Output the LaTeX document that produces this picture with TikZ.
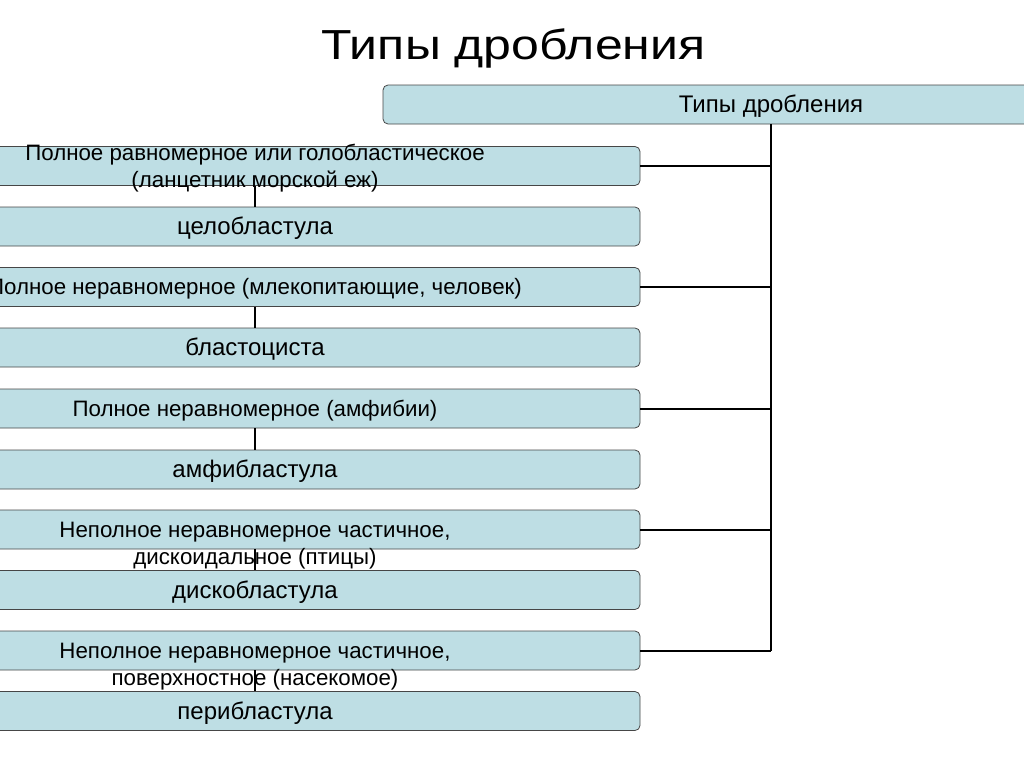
\documentclass[tikz,border=0pt]{standalone}
\usepackage{fontspec}
\setmainfont{Liberation Sans}
\definecolor{boxfill}{RGB}{190,222,228}
\definecolor{boxline}{RGB}{70,70,70}
\newcommand{\titlefont}{\fontsize{42}{50}\selectfont}
\newcommand{\longfont}{\fontsize{22.3}{27}\selectfont}
\newcommand{\shortfont}{\fontsize{24}{28}\selectfont}
\newcommand{\boxx}{255}
\tikzset{
  typebox/.style={draw=boxline, fill=boxfill, rounded corners=5pt,
    minimum width=770pt, minimum height=39pt, inner sep=0pt, line width=0.8pt},
  longtext/.style={font=\longfont, align=center, inner sep=0pt},
  shorttext/.style={font=\shortfont, align=center, inner sep=0pt},
  link/.style={line width=2pt, draw=black},
}

\begin{document}
\begin{tikzpicture}[x=1pt,y=-1pt]
    \useasboundingbox (0,0) rectangle (1024,768);
    % title
    \node[font=\titlefont, inner sep=0pt, xscale=1.19, transform shape] (title) at (513.5,48) {Типы дробления};
    % root box
    \node[typebox, minimum width=776pt] (root) at (771,104.5) {};
    \node[shorttext] (roottext) at ([yshift=-2pt]root.center) {Типы дробления};
    % type boxes
    \node[typebox] (t1) at (\boxx,166) {};
    \node[typebox] (t2) at (\boxx,226.5) {};
    \node[typebox] (t3) at (\boxx,287) {};
    \node[typebox] (t4) at (\boxx,347.5) {};
    \node[typebox] (t5) at (\boxx,408.5) {};
    \node[typebox] (t6) at (\boxx,469.5) {};
    \node[typebox] (t7) at (\boxx,529.5) {};
    \node[typebox] (t8) at (\boxx,590) {};
    \node[typebox] (t9) at (\boxx,650.5) {};
    \node[typebox] (t10) at (\boxx,711) {};
    % box texts
    \node[longtext] (t1text) at (\boxx,168.5) {Полное равномерное или голобластическое\\(ланцетник морской еж)};
    \node[shorttext] (t2text) at ([yshift=-2pt]t2.center) {целобластула};
    \node[longtext] (t3text) at ([yshift=-2pt]t3.center) {Полное неравномерное (млекопитающие, человек)};
    \node[shorttext] (t4text) at ([yshift=-2pt]t4.center) {бластоциста};
    \node[longtext] (t5text) at ([yshift=-2pt]t5.center) {Полное неравномерное (амфибии)};
    \node[shorttext] (t6text) at ([yshift=-2pt]t6.center) {амфибластула};
    \node[longtext] (t7text) at (\boxx,545.5) {Неполное неравномерное частичное,\\дискоидальное (птицы)};
    \node[shorttext] (t8text) at ([yshift=-2pt]t8.center) {дискобластула};
    \node[longtext] (t9text) at (\boxx,667) {Неполное неравномерное частичное,\\поверхностное (насекомое)};
    \node[shorttext] (t10text) at ([yshift=-2pt]t10.center) {перибластула};
    % trunk
    \draw[link] (root.south) -- (root.south |- t9.east);
    \draw[link] (t1.east) -- (t1.east -| root.south);
    \draw[link] (t3.east) -- (t3.east -| root.south);
    \draw[link] (t5.east) -- (t5.east -| root.south);
    \draw[link] (t7.east) -- (t7.east -| root.south);
    \draw[link] (t9.east) -- (t9.east -| root.south);
    % pairs
    \draw[link] (t1.south) -- (t2.north);
    \draw[link] (t3.south) -- (t4.north);
    \draw[link] (t5.south) -- (t6.north);
    \draw[link] (t7.south) -- (t8.north);
    \draw[link] (t9.south) -- (t10.north);
\end{tikzpicture}
\end{document}
